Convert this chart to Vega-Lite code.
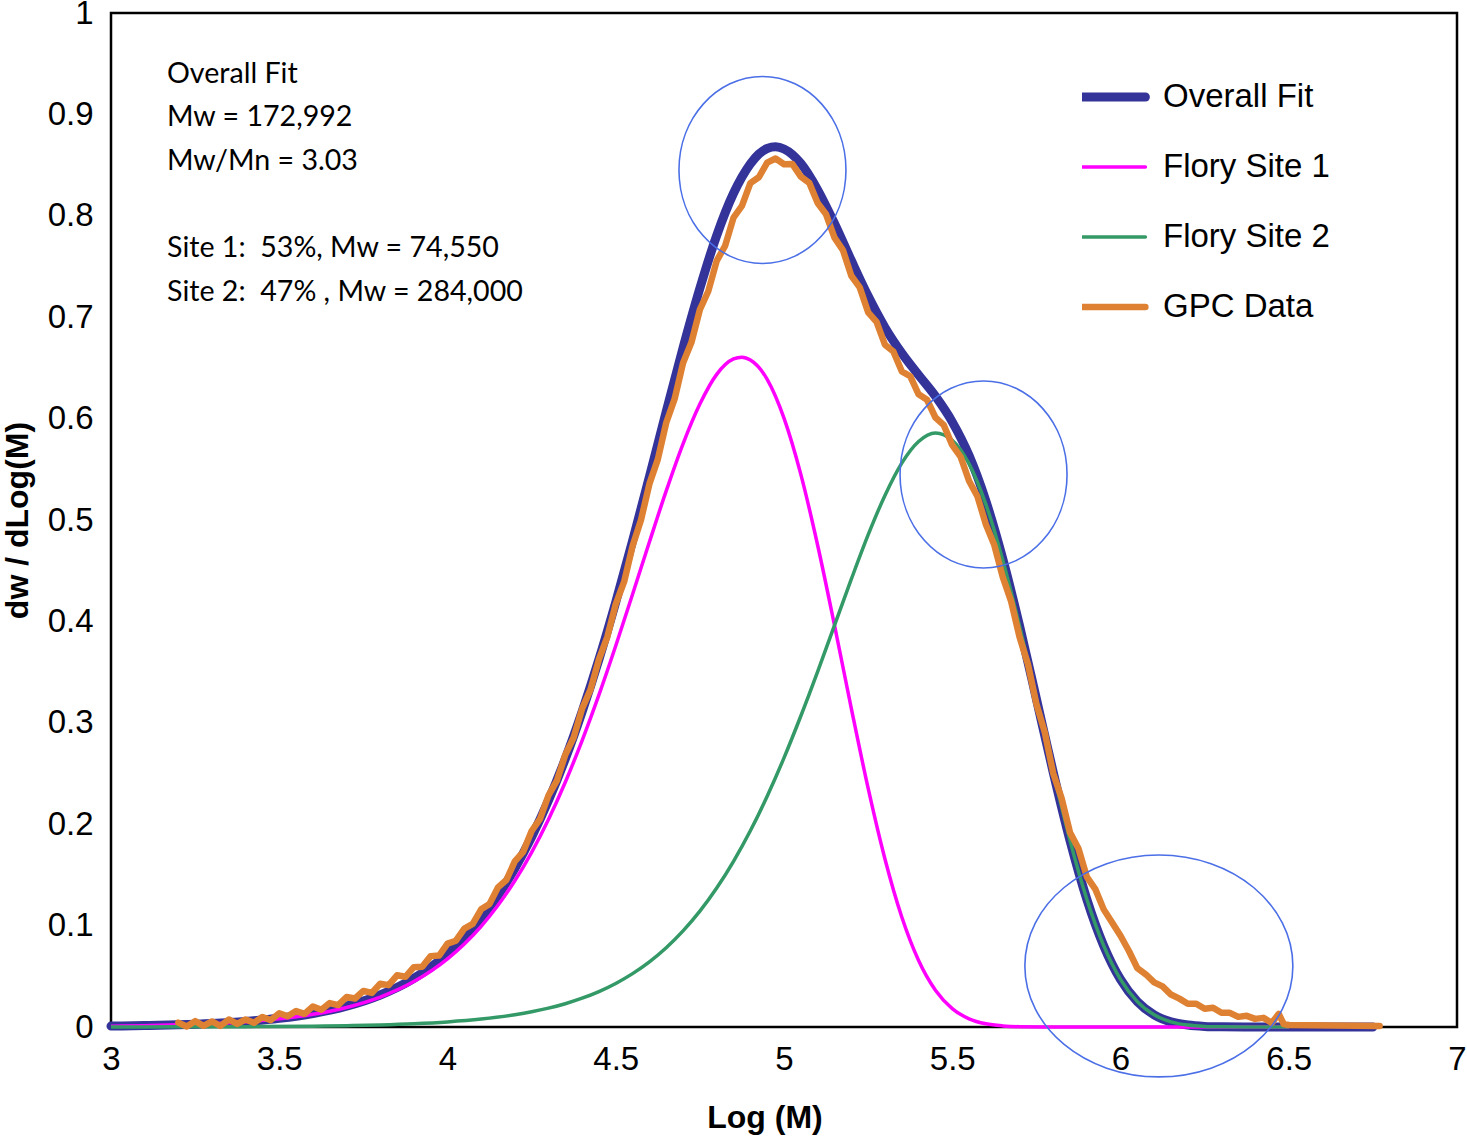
{
  "$schema": "https://vega.github.io/schema/vega-lite/v6.json",
  "width": 1346,
  "height": 1014,
  "autosize": {"type": "none"},
  "padding": {"left": 111, "top": 13, "right": 10, "bottom": 109},
  "config": {
    "view": {"stroke": "black", "strokeWidth": 2.5},
    "font": "Liberation Sans"
  },
  "datasets": {
    "curves": [
      {"series": "Overall Fit", "x": 3.0, "y": 0.00091},
      {"series": "Overall Fit", "x": 3.1, "y": 0.00143},
      {"series": "Overall Fit", "x": 3.2, "y": 0.00225},
      {"series": "Overall Fit", "x": 3.3, "y": 0.00353},
      {"series": "Overall Fit", "x": 3.4, "y": 0.00552},
      {"series": "Overall Fit", "x": 3.5, "y": 0.0086},
      {"series": "Overall Fit", "x": 3.6, "y": 0.01334},
      {"series": "Overall Fit", "x": 3.7, "y": 0.0206},
      {"series": "Overall Fit", "x": 3.8, "y": 0.03157},
      {"series": "Overall Fit", "x": 3.9, "y": 0.04798},
      {"series": "Overall Fit", "x": 4.0, "y": 0.07217},
      {"series": "Overall Fit", "x": 4.05, "y": 0.08807},
      {"series": "Overall Fit", "x": 4.1, "y": 0.10705},
      {"series": "Overall Fit", "x": 4.15, "y": 0.1297},
      {"series": "Overall Fit", "x": 4.2, "y": 0.1563},
      {"series": "Overall Fit", "x": 4.25, "y": 0.1873},
      {"series": "Overall Fit", "x": 4.3, "y": 0.2233},
      {"series": "Overall Fit", "x": 4.35, "y": 0.2644},
      {"series": "Overall Fit", "x": 4.4, "y": 0.3109},
      {"series": "Overall Fit", "x": 4.45, "y": 0.3625},
      {"series": "Overall Fit", "x": 4.5, "y": 0.419},
      {"series": "Overall Fit", "x": 4.55, "y": 0.4794},
      {"series": "Overall Fit", "x": 4.6, "y": 0.5426},
      {"series": "Overall Fit", "x": 4.65, "y": 0.6069},
      {"series": "Overall Fit", "x": 4.7, "y": 0.6698},
      {"series": "Overall Fit", "x": 4.75, "y": 0.7285},
      {"series": "Overall Fit", "x": 4.8, "y": 0.7806},
      {"series": "Overall Fit", "x": 4.85, "y": 0.8222},
      {"series": "Overall Fit", "x": 4.875, "y": 0.8382},
      {"series": "Overall Fit", "x": 4.9, "y": 0.8512},
      {"series": "Overall Fit", "x": 4.925, "y": 0.8608},
      {"series": "Overall Fit", "x": 4.95, "y": 0.8664},
      {"series": "Overall Fit", "x": 4.975, "y": 0.868},
      {"series": "Overall Fit", "x": 5.0, "y": 0.8659},
      {"series": "Overall Fit", "x": 5.025, "y": 0.8604},
      {"series": "Overall Fit", "x": 5.05, "y": 0.8517},
      {"series": "Overall Fit", "x": 5.1, "y": 0.8256},
      {"series": "Overall Fit", "x": 5.15, "y": 0.7924},
      {"series": "Overall Fit", "x": 5.2, "y": 0.7559},
      {"series": "Overall Fit", "x": 5.25, "y": 0.7208},
      {"series": "Overall Fit", "x": 5.3, "y": 0.6899},
      {"series": "Overall Fit", "x": 5.35, "y": 0.6646},
      {"series": "Overall Fit", "x": 5.4, "y": 0.643},
      {"series": "Overall Fit", "x": 5.45, "y": 0.6221},
      {"series": "Overall Fit", "x": 5.5, "y": 0.5968},
      {"series": "Overall Fit", "x": 5.55, "y": 0.5635},
      {"series": "Overall Fit", "x": 5.6, "y": 0.5186},
      {"series": "Overall Fit", "x": 5.65, "y": 0.4618},
      {"series": "Overall Fit", "x": 5.7, "y": 0.3956},
      {"series": "Overall Fit", "x": 5.75, "y": 0.3237},
      {"series": "Overall Fit", "x": 5.8, "y": 0.2513},
      {"series": "Overall Fit", "x": 5.85, "y": 0.1839},
      {"series": "Overall Fit", "x": 5.9, "y": 0.1259},
      {"series": "Overall Fit", "x": 5.95, "y": 0.0802},
      {"series": "Overall Fit", "x": 6.0, "y": 0.0469},
      {"series": "Overall Fit", "x": 6.05, "y": 0.025},
      {"series": "Overall Fit", "x": 6.1, "y": 0.012},
      {"series": "Overall Fit", "x": 6.15, "y": 0.0051},
      {"series": "Overall Fit", "x": 6.2, "y": 0.0019},
      {"series": "Overall Fit", "x": 6.25, "y": 0.0006},
      {"series": "Overall Fit", "x": 6.3, "y": 0.0002},
      {"series": "Overall Fit", "x": 6.4, "y": 0.0},
      {"series": "Overall Fit", "x": 6.75, "y": 0.0},

      {"series": "Flory Site 1", "x": 3.0, "y": 0.00085},
      {"series": "Flory Site 1", "x": 3.1, "y": 0.00135},
      {"series": "Flory Site 1", "x": 3.2, "y": 0.00212},
      {"series": "Flory Site 1", "x": 3.3, "y": 0.00332},
      {"series": "Flory Site 1", "x": 3.4, "y": 0.00518},
      {"series": "Flory Site 1", "x": 3.5, "y": 0.00807},
      {"series": "Flory Site 1", "x": 3.6, "y": 0.01251},
      {"series": "Flory Site 1", "x": 3.7, "y": 0.0193},
      {"series": "Flory Site 1", "x": 3.8, "y": 0.02953},
      {"series": "Flory Site 1", "x": 3.9, "y": 0.04478},
      {"series": "Flory Site 1", "x": 4.0, "y": 0.06717},
      {"series": "Flory Site 1", "x": 4.05, "y": 0.08183},
      {"series": "Flory Site 1", "x": 4.1, "y": 0.09927},
      {"series": "Flory Site 1", "x": 4.15, "y": 0.12},
      {"series": "Flory Site 1", "x": 4.2, "y": 0.1442},
      {"series": "Flory Site 1", "x": 4.25, "y": 0.1723},
      {"series": "Flory Site 1", "x": 4.3, "y": 0.2047},
      {"series": "Flory Site 1", "x": 4.35, "y": 0.2414},
      {"series": "Flory Site 1", "x": 4.4, "y": 0.2825},
      {"series": "Flory Site 1", "x": 4.45, "y": 0.3275},
      {"series": "Flory Site 1", "x": 4.5, "y": 0.376},
      {"series": "Flory Site 1", "x": 4.55, "y": 0.4268},
      {"series": "Flory Site 1", "x": 4.6, "y": 0.4783},
      {"series": "Flory Site 1", "x": 4.65, "y": 0.5287},
      {"series": "Flory Site 1", "x": 4.7, "y": 0.5751},
      {"series": "Flory Site 1", "x": 4.75, "y": 0.6143},
      {"series": "Flory Site 1", "x": 4.8, "y": 0.6436},
      {"series": "Flory Site 1", "x": 4.85, "y": 0.6588},
      {"series": "Flory Site 1", "x": 4.875, "y": 0.6606},
      {"series": "Flory Site 1", "x": 4.9, "y": 0.6577},
      {"series": "Flory Site 1", "x": 4.95, "y": 0.6388},
      {"series": "Flory Site 1", "x": 5.0, "y": 0.6005},
      {"series": "Flory Site 1", "x": 5.05, "y": 0.545},
      {"series": "Flory Site 1", "x": 5.1, "y": 0.4751},
      {"series": "Flory Site 1", "x": 5.15, "y": 0.3963},
      {"series": "Flory Site 1", "x": 5.2, "y": 0.3143},
      {"series": "Flory Site 1", "x": 5.25, "y": 0.2355},
      {"series": "Flory Site 1", "x": 5.3, "y": 0.1657},
      {"series": "Flory Site 1", "x": 5.35, "y": 0.1085},
      {"series": "Flory Site 1", "x": 5.4, "y": 0.0656},
      {"series": "Flory Site 1", "x": 5.45, "y": 0.0363},
      {"series": "Flory Site 1", "x": 5.5, "y": 0.0182},
      {"series": "Flory Site 1", "x": 5.55, "y": 0.0081},
      {"series": "Flory Site 1", "x": 5.6, "y": 0.0032},
      {"series": "Flory Site 1", "x": 5.65, "y": 0.0011},
      {"series": "Flory Site 1", "x": 5.7, "y": 0.0003},
      {"series": "Flory Site 1", "x": 5.8, "y": 0.0},
      {"series": "Flory Site 1", "x": 6.5, "y": 0.0},

      {"series": "Flory Site 2", "x": 3.0, "y": 0.00005},
      {"series": "Flory Site 2", "x": 3.2, "y": 0.00013},
      {"series": "Flory Site 2", "x": 3.4, "y": 0.00033},
      {"series": "Flory Site 2", "x": 3.6, "y": 0.00083},
      {"series": "Flory Site 2", "x": 3.7, "y": 0.0013},
      {"series": "Flory Site 2", "x": 3.8, "y": 0.00204},
      {"series": "Flory Site 2", "x": 3.9, "y": 0.0032},
      {"series": "Flory Site 2", "x": 4.0, "y": 0.005},
      {"series": "Flory Site 2", "x": 4.1, "y": 0.00778},
      {"series": "Flory Site 2", "x": 4.2, "y": 0.01206},
      {"series": "Flory Site 2", "x": 4.25, "y": 0.01497},
      {"series": "Flory Site 2", "x": 4.3, "y": 0.01857},
      {"series": "Flory Site 2", "x": 4.35, "y": 0.02298},
      {"series": "Flory Site 2", "x": 4.4, "y": 0.02839},
      {"series": "Flory Site 2", "x": 4.45, "y": 0.03497},
      {"series": "Flory Site 2", "x": 4.5, "y": 0.04297},
      {"series": "Flory Site 2", "x": 4.55, "y": 0.05264},
      {"series": "Flory Site 2", "x": 4.6, "y": 0.06427},
      {"series": "Flory Site 2", "x": 4.65, "y": 0.0782},
      {"series": "Flory Site 2", "x": 4.7, "y": 0.09474},
      {"series": "Flory Site 2", "x": 4.75, "y": 0.1142},
      {"series": "Flory Site 2", "x": 4.8, "y": 0.137},
      {"series": "Flory Site 2", "x": 4.85, "y": 0.1634},
      {"series": "Flory Site 2", "x": 4.9, "y": 0.1935},
      {"series": "Flory Site 2", "x": 4.95, "y": 0.2276},
      {"series": "Flory Site 2", "x": 5.0, "y": 0.2654},
      {"series": "Flory Site 2", "x": 5.05, "y": 0.3067},
      {"series": "Flory Site 2", "x": 5.1, "y": 0.3505},
      {"series": "Flory Site 2", "x": 5.15, "y": 0.3961},
      {"series": "Flory Site 2", "x": 5.2, "y": 0.4416},
      {"series": "Flory Site 2", "x": 5.25, "y": 0.4853},
      {"series": "Flory Site 2", "x": 5.3, "y": 0.5242},
      {"series": "Flory Site 2", "x": 5.35, "y": 0.5561},
      {"series": "Flory Site 2", "x": 5.4, "y": 0.5774},
      {"series": "Flory Site 2", "x": 5.45, "y": 0.5858},
      {"series": "Flory Site 2", "x": 5.5, "y": 0.5786},
      {"series": "Flory Site 2", "x": 5.55, "y": 0.5554},
      {"series": "Flory Site 2", "x": 5.6, "y": 0.5154},
      {"series": "Flory Site 2", "x": 5.65, "y": 0.4607},
      {"series": "Flory Site 2", "x": 5.7, "y": 0.3953},
      {"series": "Flory Site 2", "x": 5.75, "y": 0.3236},
      {"series": "Flory Site 2", "x": 5.8, "y": 0.2513},
      {"series": "Flory Site 2", "x": 5.85, "y": 0.1839},
      {"series": "Flory Site 2", "x": 5.9, "y": 0.1259},
      {"series": "Flory Site 2", "x": 5.95, "y": 0.0802},
      {"series": "Flory Site 2", "x": 6.0, "y": 0.0469},
      {"series": "Flory Site 2", "x": 6.05, "y": 0.025},
      {"series": "Flory Site 2", "x": 6.1, "y": 0.012},
      {"series": "Flory Site 2", "x": 6.15, "y": 0.0051},
      {"series": "Flory Site 2", "x": 6.2, "y": 0.0019},
      {"series": "Flory Site 2", "x": 6.25, "y": 0.0006},
      {"series": "Flory Site 2", "x": 6.3, "y": 0.0002},
      {"series": "Flory Site 2", "x": 6.4, "y": 0.0},
      {"series": "Flory Site 2", "x": 6.5, "y": 0.0},

      {"series": "GPC Data", "x": 3.2, "y": 0.0043},
      {"series": "GPC Data", "x": 3.225, "y": 0.0005},
      {"series": "GPC Data", "x": 3.25, "y": 0.0058},
      {"series": "GPC Data", "x": 3.275, "y": 0.0012},
      {"series": "GPC Data", "x": 3.3, "y": 0.0055},
      {"series": "GPC Data", "x": 3.325, "y": 0.001},
      {"series": "GPC Data", "x": 3.35, "y": 0.0074},
      {"series": "GPC Data", "x": 3.375, "y": 0.003},
      {"series": "GPC Data", "x": 3.4, "y": 0.0075},
      {"series": "GPC Data", "x": 3.425, "y": 0.0042},
      {"series": "GPC Data", "x": 3.45, "y": 0.0099},
      {"series": "GPC Data", "x": 3.475, "y": 0.0068},
      {"series": "GPC Data", "x": 3.5, "y": 0.0136},
      {"series": "GPC Data", "x": 3.525, "y": 0.0106},
      {"series": "GPC Data", "x": 3.55, "y": 0.0157},
      {"series": "GPC Data", "x": 3.575, "y": 0.013},
      {"series": "GPC Data", "x": 3.6, "y": 0.0203},
      {"series": "GPC Data", "x": 3.625, "y": 0.017},
      {"series": "GPC Data", "x": 3.65, "y": 0.0236},
      {"series": "GPC Data", "x": 3.675, "y": 0.0216},
      {"series": "GPC Data", "x": 3.7, "y": 0.0296},
      {"series": "GPC Data", "x": 3.725, "y": 0.0281},
      {"series": "GPC Data", "x": 3.75, "y": 0.0356},
      {"series": "GPC Data", "x": 3.775, "y": 0.0336},
      {"series": "GPC Data", "x": 3.8, "y": 0.0426},
      {"series": "GPC Data", "x": 3.825, "y": 0.0413},
      {"series": "GPC Data", "x": 3.85, "y": 0.051},
      {"series": "GPC Data", "x": 3.875, "y": 0.0495},
      {"series": "GPC Data", "x": 3.9, "y": 0.059},
      {"series": "GPC Data", "x": 3.925, "y": 0.0595},
      {"series": "GPC Data", "x": 3.95, "y": 0.0699},
      {"series": "GPC Data", "x": 3.975, "y": 0.0705},
      {"series": "GPC Data", "x": 4.0, "y": 0.0822},
      {"series": "GPC Data", "x": 4.025, "y": 0.0851},
      {"series": "GPC Data", "x": 4.05, "y": 0.0971},
      {"series": "GPC Data", "x": 4.075, "y": 0.1016},
      {"series": "GPC Data", "x": 4.1, "y": 0.1161},
      {"series": "GPC Data", "x": 4.125, "y": 0.1214},
      {"series": "GPC Data", "x": 4.15, "y": 0.1377},
      {"series": "GPC Data", "x": 4.175, "y": 0.145},
      {"series": "GPC Data", "x": 4.2, "y": 0.1633},
      {"series": "GPC Data", "x": 4.225, "y": 0.1728},
      {"series": "GPC Data", "x": 4.25, "y": 0.1933},
      {"series": "GPC Data", "x": 4.275, "y": 0.2053},
      {"series": "GPC Data", "x": 4.3, "y": 0.2283},
      {"series": "GPC Data", "x": 4.325, "y": 0.2429},
      {"series": "GPC Data", "x": 4.35, "y": 0.2684},
      {"series": "GPC Data", "x": 4.375, "y": 0.2857},
      {"series": "GPC Data", "x": 4.4, "y": 0.3139},
      {"series": "GPC Data", "x": 4.425, "y": 0.3327},
      {"series": "GPC Data", "x": 4.45, "y": 0.3625},
      {"series": "GPC Data", "x": 4.475, "y": 0.3848},
      {"series": "GPC Data", "x": 4.5, "y": 0.417},
      {"series": "GPC Data", "x": 4.525, "y": 0.4392},
      {"series": "GPC Data", "x": 4.55, "y": 0.4744},
      {"series": "GPC Data", "x": 4.575, "y": 0.5},
      {"series": "GPC Data", "x": 4.6, "y": 0.5356},
      {"series": "GPC Data", "x": 4.625, "y": 0.5598},
      {"series": "GPC Data", "x": 4.65, "y": 0.5959},
      {"series": "GPC Data", "x": 4.675, "y": 0.6194},
      {"series": "GPC Data", "x": 4.7, "y": 0.6548},
      {"series": "GPC Data", "x": 4.725, "y": 0.6752},
      {"series": "GPC Data", "x": 4.75, "y": 0.7075},
      {"series": "GPC Data", "x": 4.775, "y": 0.7256},
      {"series": "GPC Data", "x": 4.8, "y": 0.7556},
      {"series": "GPC Data", "x": 4.825, "y": 0.7704},
      {"series": "GPC Data", "x": 4.85, "y": 0.7982},
      {"series": "GPC Data", "x": 4.875, "y": 0.8097},
      {"series": "GPC Data", "x": 4.9, "y": 0.8322},
      {"series": "GPC Data", "x": 4.925, "y": 0.838},
      {"series": "GPC Data", "x": 4.95, "y": 0.8524},
      {"series": "GPC Data", "x": 4.975, "y": 0.8565},
      {"series": "GPC Data", "x": 5.0, "y": 0.8509},
      {"series": "GPC Data", "x": 5.025, "y": 0.851},
      {"series": "GPC Data", "x": 5.05, "y": 0.8387},
      {"series": "GPC Data", "x": 5.075, "y": 0.8325},
      {"series": "GPC Data", "x": 5.1, "y": 0.8126},
      {"series": "GPC Data", "x": 5.125, "y": 0.8015},
      {"series": "GPC Data", "x": 5.15, "y": 0.7784},
      {"series": "GPC Data", "x": 5.175, "y": 0.7662},
      {"series": "GPC Data", "x": 5.2, "y": 0.7409},
      {"series": "GPC Data", "x": 5.225, "y": 0.7294},
      {"series": "GPC Data", "x": 5.25, "y": 0.7048},
      {"series": "GPC Data", "x": 5.275, "y": 0.6953},
      {"series": "GPC Data", "x": 5.3, "y": 0.6729},
      {"series": "GPC Data", "x": 5.325, "y": 0.6662},
      {"series": "GPC Data", "x": 5.35, "y": 0.6466},
      {"series": "GPC Data", "x": 5.375, "y": 0.6418},
      {"series": "GPC Data", "x": 5.4, "y": 0.624},
      {"series": "GPC Data", "x": 5.425, "y": 0.6186},
      {"series": "GPC Data", "x": 5.45, "y": 0.6011},
      {"series": "GPC Data", "x": 5.475, "y": 0.5935},
      {"series": "GPC Data", "x": 5.5, "y": 0.5738},
      {"series": "GPC Data", "x": 5.525, "y": 0.5622},
      {"series": "GPC Data", "x": 5.55, "y": 0.5385},
      {"series": "GPC Data", "x": 5.575, "y": 0.5231},
      {"series": "GPC Data", "x": 5.6, "y": 0.4956},
      {"series": "GPC Data", "x": 5.625, "y": 0.4752},
      {"series": "GPC Data", "x": 5.65, "y": 0.4438},
      {"series": "GPC Data", "x": 5.675, "y": 0.4197},
      {"series": "GPC Data", "x": 5.7, "y": 0.3846},
      {"series": "GPC Data", "x": 5.725, "y": 0.3577},
      {"series": "GPC Data", "x": 5.75, "y": 0.3187},
      {"series": "GPC Data", "x": 5.775, "y": 0.2905},
      {"series": "GPC Data", "x": 5.8, "y": 0.2503},
      {"series": "GPC Data", "x": 5.825, "y": 0.2256},
      {"series": "GPC Data", "x": 5.85, "y": 0.1919},
      {"series": "GPC Data", "x": 5.875, "y": 0.176},
      {"series": "GPC Data", "x": 5.9, "y": 0.148},
      {"series": "GPC Data", "x": 5.925, "y": 0.136},
      {"series": "GPC Data", "x": 5.95, "y": 0.116},
      {"series": "GPC Data", "x": 5.975, "y": 0.103},
      {"series": "GPC Data", "x": 6.0, "y": 0.09},
      {"series": "GPC Data", "x": 6.025, "y": 0.075},
      {"series": "GPC Data", "x": 6.05, "y": 0.058},
      {"series": "GPC Data", "x": 6.075, "y": 0.052},
      {"series": "GPC Data", "x": 6.1, "y": 0.044},
      {"series": "GPC Data", "x": 6.125, "y": 0.04},
      {"series": "GPC Data", "x": 6.15, "y": 0.032},
      {"series": "GPC Data", "x": 6.175, "y": 0.028},
      {"series": "GPC Data", "x": 6.2, "y": 0.023},
      {"series": "GPC Data", "x": 6.225, "y": 0.023},
      {"series": "GPC Data", "x": 6.25, "y": 0.018},
      {"series": "GPC Data", "x": 6.275, "y": 0.019},
      {"series": "GPC Data", "x": 6.3, "y": 0.014},
      {"series": "GPC Data", "x": 6.325, "y": 0.014},
      {"series": "GPC Data", "x": 6.35, "y": 0.01},
      {"series": "GPC Data", "x": 6.375, "y": 0.011},
      {"series": "GPC Data", "x": 6.4, "y": 0.008},
      {"series": "GPC Data", "x": 6.425, "y": 0.009},
      {"series": "GPC Data", "x": 6.45, "y": 0.004},
      {"series": "GPC Data", "x": 6.47, "y": 0.013},
      {"series": "GPC Data", "x": 6.485, "y": 0.003},
      {"series": "GPC Data", "x": 6.5, "y": 0.002},
      {"series": "GPC Data", "x": 6.77, "y": 0.001}
    ],
    "notes": [
      {"x": 3.1664, "y": 0.931, "label": "Overall Fit"},
      {"x": 3.1664, "y": 0.8886, "label": "Mw = 172,992"},
      {"x": 3.1664, "y": 0.8452, "label": "Mw/Mn = 3.03"},
      {"x": 3.1664, "y": 0.7594, "label": "Site 1:\u00a0 53%, Mw = 74,550"},
      {"x": 3.1664, "y": 0.716, "label": "Site 2:\u00a0 47% , Mw = 284,000"}
    ],
    "rings": [
      {"x": 4.936, "y": 0.8452, "ring": "circle"},
      {"x": 5.593, "y": 0.5449, "ring": "circle"},
      {"x": 6.114, "y": 0.0602, "ring": "ellipse"}
    ]
  },
  "encoding": {
    "x": {
      "field": "x",
      "type": "quantitative",
      "scale": {"domain": [3, 7], "nice": false, "zero": false},
      "axis": {
        "values": [3, 3.5, 4, 4.5, 5, 5.5, 6, 6.5, 7],
        "format": "~g",
        "title": "Log (M)",
        "grid": false,
        "domain": false,
        "ticks": false,
        "tickSize": 0,
        "labelFont": "Liberation Sans",
        "labelFontSize": 33,
        "labelColor": "black",
        "labelPadding": 16,
        "labelFlush": false,
        "titleFont": "Liberation Sans",
        "titleFontSize": 32,
        "titleFontWeight": "bold",
        "titleColor": "black",
        "titleX": 653.5,
        "titleY": 90,
        "titleAlign": "center",
        "titleBaseline": "middle"
      }
    },
    "y": {
      "field": "y",
      "type": "quantitative",
      "scale": {"domain": [0, 1], "nice": false},
      "axis": {
        "values": [0, 0.1, 0.2, 0.3, 0.4, 0.5, 0.6, 0.7, 0.8, 0.9, 1],
        "format": ".1~f",
        "title": "dw / dLog(M)",
        "grid": false,
        "domain": false,
        "ticks": false,
        "tickSize": 0,
        "labelFont": "Liberation Sans",
        "labelFontSize": 33,
        "labelColor": "black",
        "labelPadding": 18,
        "labelFlush": false,
        "titleFont": "Liberation Sans",
        "titleFontSize": 32,
        "titleFontWeight": "bold",
        "titleColor": "black",
        "titleAngle": -90,
        "titleX": -94,
        "titleY": 507,
        "titleAlign": "center",
        "titleBaseline": "middle"
      }
    }
  },
  "layer": [
    {
      "data": {"name": "curves"},
      "transform": [{"filter": "datum.series === 'Overall Fit'"}],
      "mark": {"type": "line", "interpolate": "monotone", "strokeWidth": 9, "strokeCap": "round"},
      "encoding": {
        "color": {
          "field": "series",
          "type": "nominal",
          "scale": {
            "domain": ["Overall Fit", "Flory Site 1", "Flory Site 2", "GPC Data"],
            "range": ["#333399", "#FF00FF", "#339966", "#DF8133"]
          },
          "legend": {
            "title": null,
            "orient": "none",
            "legendX": 971,
            "legendY": 51,
            "padding": 0,
            "symbolType": "stroke",
            "symbolSize": 8800,
            "symbolStrokeWidth": 4,
            "clipHeight": 66,
            "rowPadding": 4,
            "labelFont": "Liberation Sans",
            "labelFontSize": 33,
            "labelColor": "black",
            "labelOffset": 48,
            "labelLimit": 400,
            "encode": {
              "symbols": {
                "update": {
                  "strokeWidth": {"signal": "datum.value === 'Overall Fit' ? 9 : datum.value === 'GPC Data' ? 6.5 : 3.5"},
                  "strokeCap": {"value": "round"}
                }
              }
            }
          }
        }
      }
    },
    {
      "data": {"name": "curves"},
      "transform": [{"filter": "datum.series === 'Flory Site 1'"}],
      "mark": {"type": "line", "interpolate": "monotone", "strokeWidth": 3.5},
      "encoding": {"color": {"field": "series", "type": "nominal"}}
    },
    {
      "data": {"name": "curves"},
      "transform": [{"filter": "datum.series === 'Flory Site 2'"}],
      "mark": {"type": "line", "interpolate": "monotone", "strokeWidth": 3.5},
      "encoding": {"color": {"field": "series", "type": "nominal"}}
    },
    {
      "data": {"name": "curves"},
      "transform": [{"filter": "datum.series === 'GPC Data'"}],
      "mark": {"type": "line", "strokeWidth": 6.5, "strokeJoin": "round", "strokeCap": "round"},
      "encoding": {"color": {"field": "series", "type": "nominal"}}
    },
    {
      "data": {"name": "notes"},
      "mark": {"type": "text", "align": "left", "baseline": "alphabetic", "font": "Lato", "fontSize": 28.6, "color": "black"},
      "encoding": {"text": {"field": "label", "type": "nominal"}}
    },
    {
      "data": {"name": "rings"},
      "transform": [{"filter": "datum.ring === 'circle'"}],
      "mark": {
        "type": "point",
        "shape": "M-0.893,0A0.893,1,0,1,1,0.893,0A0.893,1,0,1,1,-0.893,0Z",
        "size": 34969,
        "filled": false,
        "stroke": "#4B6FE6",
        "strokeWidth": 1.6,
        "opacity": 1
      }
    },
    {
      "data": {"name": "rings"},
      "transform": [{"filter": "datum.ring === 'ellipse'"}],
      "mark": {
        "type": "point",
        "shape": "M-1,0A1,0.828,0,1,1,1,0A1,0.828,0,1,1,-1,0Z",
        "size": 71824,
        "filled": false,
        "stroke": "#4B6FE6",
        "strokeWidth": 1.6,
        "opacity": 1
      }
    }
  ]
}
